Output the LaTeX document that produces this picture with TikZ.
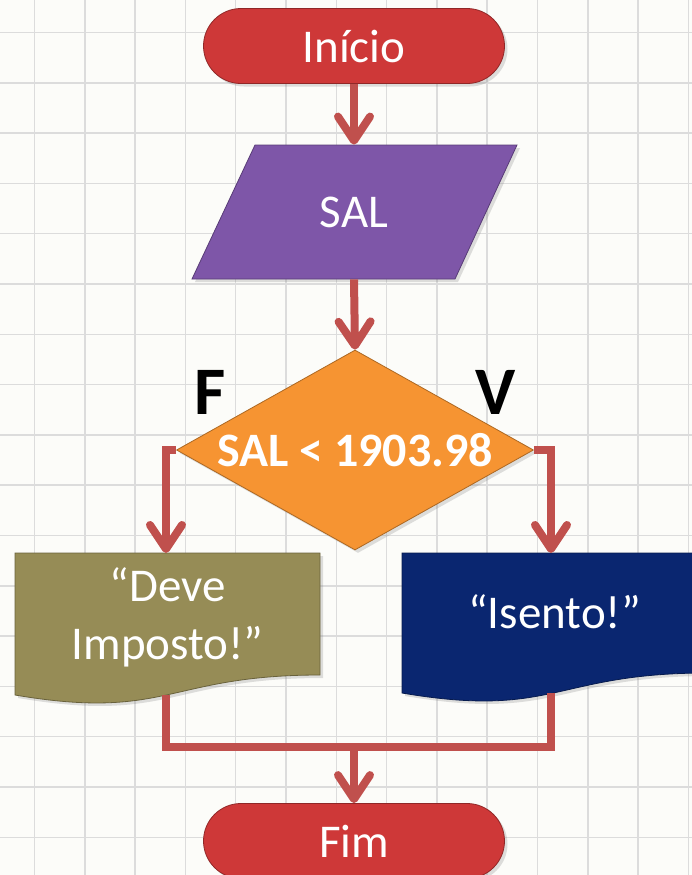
\documentclass[tikz,border=0pt]{standalone}
\usepackage{fontspec}
\setmainfont{Carlito}
\usetikzlibrary{shapes.geometric,shapes.misc,arrows.meta,shadows}

\definecolor{paper}{RGB}{252,252,249}
\definecolor{gridline}{RGB}{220,220,220}
\definecolor{termred}{RGB}{206,56,56}
\definecolor{linkred}{RGB}{192,80,77}
\definecolor{inpurple}{RGB}{126,86,168}
\definecolor{decorange}{RGB}{246,148,50}
\definecolor{outolive}{RGB}{150,140,86}
\definecolor{outnavy}{RGB}{10,38,112}

\tikzset{
  softshadow/.style={drop shadow={shadow xshift=1.5pt,shadow yshift=-1.5pt,opacity=0.25}},
  terminal/.style={rounded rectangle, fill=termred, draw=termred!70!black, thin,
    minimum width=150.5pt, minimum height=37.5pt, inner sep=0pt, text=white,
    font=\fontsize{23.5}{28}\selectfont, softshadow},
  input/.style={minimum width=131pt, minimum height=67pt, inner sep=0pt, text=white,
    font=\fontsize{23.5}{28}\selectfont},
  decision/.style={diamond, aspect=1.785, inner sep=0pt, minimum width=178.5pt,
    minimum height=100pt, fill=decorange, draw=decorange!70!black, thin, text=white,
    font=\bfseries\fontsize{24}{28}\selectfont, softshadow},
  outtext/.style={text=white, align=center, font=\fontsize{23.5}{29}\selectfont},
  branch/.style={font=\bfseries\fontsize{34}{40}\selectfont},
  link/.style={draw=linkred, line width=4pt},
  flow/.style={link, -{Straight Barb[length=12pt,width=16pt,round]}}
}

\begin{document}
\begin{tikzpicture}[x=0.5pt,y=-0.5pt]
\useasboundingbox (0,0) rectangle (692,875);
\clip (0,0) rectangle (692,875);
\fill[paper] (0,0) rectangle (692,875);
% grid
\foreach \i in {0,...,13}
  \draw[gridline, line width=0.75pt] ({34.5+50.3*\i},0) -- ++(0,875);
\foreach \i in {0,...,16}
  \draw[gridline, line width=0.75pt] (0,{32.5+50.3*\i}) -- ++(692,0);

% input parallelogram
\path[fill=inpurple, draw=inpurple!70!black, thin, softshadow]
  (255,145) -- (517,145) -- (455,279) -- (192,279) -- cycle;

% nodes
\node[terminal] (ini) at (354,46) {Início};
\node[input] (sal) at (354,212) {SAL};
\node[decision] (dec) at (355,450) {SAL < 1903.98};
\node[branch] (lblF) at (210,392) {F};
\node[branch] (lblV) at (496,392) {V};

% output boxes
\path[fill=outolive, draw=outolive!70!black, thin, softshadow]
  (15,553) -- (320,553) -- (320,675)
  .. controls (167.5,675) and (167.5,721) .. (15,695) -- cycle;
\node[outtext] (deve) at (167.5,617) {“Deve\\Imposto!”};
\path[fill=outnavy, draw=outnavy!70!black, thin, softshadow]
  (402,553) -- (707,553) -- (707,673)
  .. controls (554.5,673) and (554.5,719) .. (402,693) -- cycle;
\node[outtext] (isento) at (554.5,612) {“Isento!”};

\node[terminal] (fim) at (354,841) {Fim};

\coordinate (devetop) at (166,553);
\coordinate (devebot) at (166,695);
\coordinate (isentotop) at (551,553);
\coordinate (isentobot) at (551,693);
\coordinate (merge) at (354,747);

% connectors
\draw[flow] (ini.south) -- (sal.north);
\draw[flow] (sal.south) -- (dec.north);
\draw[flow] (dec.west) -| (devetop);
\draw[flow] (dec.east) -| (isentotop);
\draw[link] (devebot) |- (merge) -| (isentobot);
\draw[flow] (merge) -- (fim.north);
\end{tikzpicture}
\end{document}
